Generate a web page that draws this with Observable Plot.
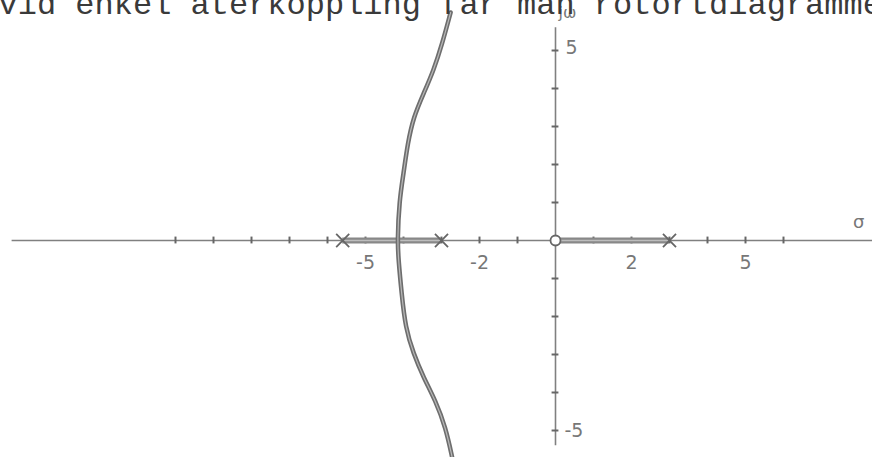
<!DOCTYPE html>
<html>
<head>
<meta charset="utf-8">
<script src="https://cdn.jsdelivr.net/npm/d3@7"></script>
<script src="https://cdn.jsdelivr.net/npm/@observablehq/plot@0.6"></script>
<style>
  html, body { margin: 0; padding: 0; background: #fff; }
  #chart svg { display: block; }
</style>
</head>
<body>
<div id="chart"></div>
<script>
// Root locus in the s-plane (σ horizontal, jω vertical)
const headline = "vid enkel återkoppling får man rotortdiagrammet";

// Open-loop poles and zeros on the real axis
const poles = [-5.6, -3, 3];
const zeros = [0];

// Real-axis locus segments [from, to]
const realSegments = [[-5.6, -3], [0, 3]];

// Complex branch (σ, ω) from top to bottom
const branchSigma = [-2.76, -2.98, -3.21, -3.47, -3.74, -3.89, -4.0, -4.11, -4.16, -4.13, -4.05, -3.95, -3.74, -3.47, -3.16, -2.89, -2.71];
const branchOmega = [6.0, 5.18, 4.47, 3.87, 3.24, 2.55, 1.76, 1.05, 0.0, -0.53, -1.39, -2.29, -2.97, -3.61, -4.21, -4.92, -5.75];

// Axis extents and tick marks
const sigmaAxis = [-14.3, 8.4];
const omegaAxis = [-5.4, 5.6];
const sigmaTicks = [-10, -9, -8, -7, -6, -5, -4, -3, -2, -1, 1, 2, 3, 4, 5, 6];
const omegaTicks = [-5, -4, -3, -2, -1, 1, 2, 3, 4, 5];

// Tick labels
const sigmaLabels = [-5, -2, 2, 5];
const omegaLabelsUpper = [5];
const omegaLabelsLower = [-5];

const W = 872, H = 457;
const ox = 555, oy = 240, unit = 38;
const ink = "#777";

const branch = branchSigma.map((s, i) => ({s, w: branchOmega[i]}));
const hand = "DejaVu Sans";
const fmt = d => d < 0 ? "-" + Math.abs(d) : String(d);

const chart = Plot.plot({
  width: W,
  height: H,
  margin: 0,
  x: {type: "linear", domain: [-ox / unit, (W - ox) / unit], range: [0, W], axis: null},
  y: {type: "linear", domain: [-(H - oy) / unit, oy / unit], range: [H, 0], axis: null},
  style: {background: "#fff"},
  marks: [
    // axes
    Plot.ruleY([0], {x1: sigmaAxis[0], x2: sigmaAxis[1], stroke: "#808080", strokeWidth: 1.4}),
    Plot.ruleX([0], {y1: omegaAxis[0], y2: omegaAxis[1], stroke: "#808080", strokeWidth: 1.6}),
    Plot.ruleX(sigmaTicks, {x: d => d, y1: -0.09, y2: 0.09, stroke: "#666", strokeWidth: 2}),
    Plot.ruleY(omegaTicks, {y: d => d, x1: -0.09, x2: 0.09, stroke: "#666", strokeWidth: 2}),
    // real-axis locus
    Plot.ruleY(realSegments, {x1: d => d[0], x2: d => d[1], y: 0, stroke: "#888", strokeWidth: 6}),
    Plot.ruleY(realSegments, {x1: d => d[0], x2: d => d[1], y: 0, stroke: "#bdbdbd", strokeWidth: 1.6}),
    // complex branch
    Plot.line(branch, {x: "s", y: "w", curve: "basis", stroke: "#6e6e6e", strokeWidth: 4.5}),
    Plot.line(branch, {x: "s", y: "w", curve: "basis", stroke: "#b8b8b8", strokeWidth: 1.2}),
    // poles and zeros
    Plot.dot(poles, {x: d => d, y: 0, symbol: "times", r: 6, stroke: "#666", strokeWidth: 1.8}),
    Plot.dot(zeros, {x: d => d, y: 0, symbol: "circle", r: 5, stroke: "#666", fill: "#fff", strokeWidth: 1.8}),
    // tick labels
    Plot.text(sigmaLabels, {x: d => d, y: 0, text: fmt, dy: 22, fontSize: 19, fontFamily: hand, fill: ink}),
    Plot.text(omegaLabelsUpper, {x: 0, y: d => d, text: fmt, dx: 10, dy: -3, textAnchor: "start", fontSize: 19, fontFamily: hand, fill: ink}),
    Plot.text(omegaLabelsLower, {x: 0, y: d => d, text: fmt, dx: 9, dy: 0, textAnchor: "start", fontSize: 19, fontFamily: hand, fill: ink}),
    // axis names
    Plot.text(["jω"], {x: 0, y: omegaAxis[1], text: d => d, dx: 12, dy: -15, fontSize: 16, fontFamily: hand, fill: ink}),
    Plot.text(["σ"], {x: sigmaAxis[1], y: 0, text: d => d, dx: -16, dy: -18, fontSize: 18, fontFamily: hand, fill: ink}),
    // running text above the figure
    Plot.text([headline], {frameAnchor: "top-left", text: d => d, dx: -2, dy: 13, lineAnchor: "bottom", textAnchor: "start", fontSize: 32, fontFamily: "Liberation Mono", fill: "#3a3a3a"})
  ]
});

document.getElementById("chart").appendChild(chart);
</script>
</body>
</html>
